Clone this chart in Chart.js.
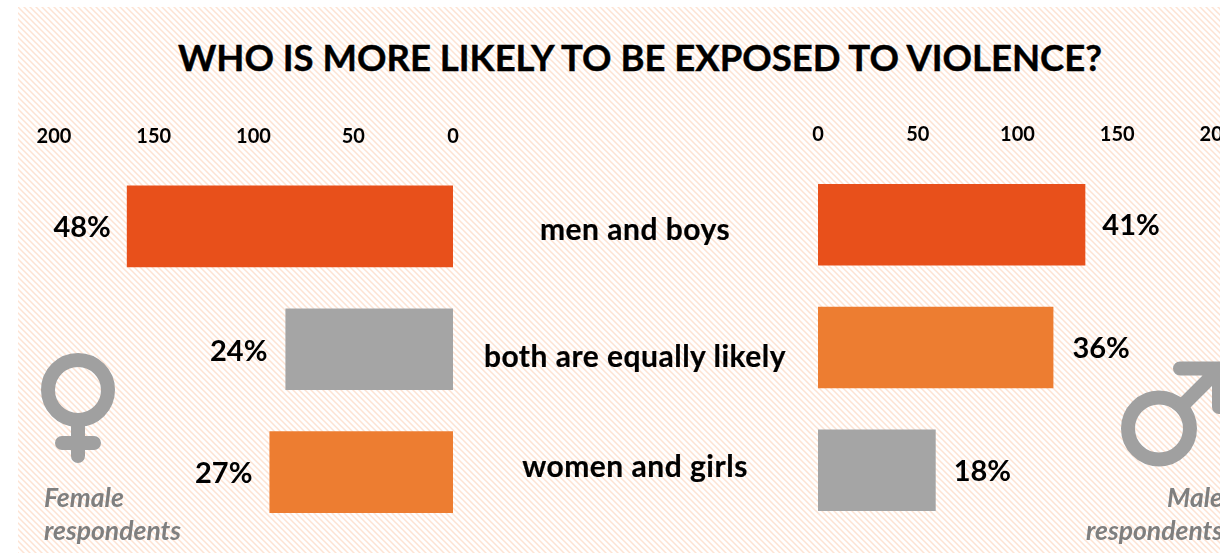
<!DOCTYPE html>
<html>
<head>
<meta charset="utf-8">
<script src="https://cdn.jsdelivr.net/npm/chart.js@4"></script>
<style>
  html, body { margin: 0; padding: 0; background: #fff; }
  body { width: 1220px; height: 553px; overflow: hidden; position: relative; font-family: Lato, sans-serif; }
  .bg {
    position: absolute; left: 18px; top: 7px; right: 0; bottom: 0;
    background-image: url("data:image/svg+xml,%3Csvg xmlns='http://www.w3.org/2000/svg' width='6' height='6'%3E%3Cpath d='M-1 -1L7 7M-1 5L1 7M5 -1L7 1' stroke='%23fde3d3' stroke-width='1.5'/%3E%3C/svg%3E");
    background-size: 6px 6px;
  }
  h1 { position: absolute; left: 0; width: 1280px; top: 35px; margin: 0; text-align: center; font-size: 36.5px; line-height: 44px; font-weight: 700; color: #000; white-space: nowrap; -webkit-text-stroke: 0.4px #000; }
  .wrap { position: absolute; }
  .cat { position: absolute; left: 435px; width: 400px; text-align: center; font-size: 30px; letter-spacing: 0.5px; font-weight: 700; color: #000; line-height: 34px; white-space: nowrap; -webkit-text-stroke: 0.2px #000; }
  .resp { position: absolute; font-size: 26.5px; font-weight: 700; font-style: italic; color: #7f7f7f; line-height: 33px; white-space: nowrap; }
  svg { position: absolute; }
</style>
</head>
<body>
<div class="bg"></div>
<h1>WHO IS MORE LIKELY TO BE EXPOSED TO VIOLENCE?</h1>

<div class="wrap" style="left:18px;top:110px;width:470px;height:440px"><canvas id="femaleChart"></canvas></div>
<div class="wrap" style="left:780px;top:108px;width:480px;height:440px"><canvas id="maleChart"></canvas></div>

<div class="cat" style="top:211px">men and boys</div>
<div class="cat" style="top:338px">both are equally likely</div>
<div class="cat" style="top:448px">women and girls</div>

<svg style="left:30px;top:345px" width="100" height="125" viewBox="0 0 100 125">
  <circle cx="48" cy="45" r="30" fill="none" stroke="#a0a0a0" stroke-width="14"/>
  <path d="M48 75V111M32 98H64" fill="none" stroke="#a0a0a0" stroke-width="14" stroke-linecap="round"/>
</svg>
<svg style="left:1110px;top:350px" width="110" height="125" viewBox="0 0 110 125">
  <circle cx="49" cy="78.5" r="31" fill="none" stroke="#a0a0a0" stroke-width="14"/>
  <path d="M72 56L109 19M70 18.5H125M109 18.5V57" fill="none" stroke="#a0a0a0" stroke-width="14" stroke-linecap="round"/>
</svg>

<div class="resp" style="left:44px;top:481px">Female<br>respondents</div>
<div class="resp" style="right:-3px;top:481px;text-align:right">Male<br>respondents</div>

<script>
const categories = ["men and boys", "both are equally likely", "women and girls"];
const femaleValues = [163.5, 84, 92];
const maleValues = [134, 118, 59];
const femalePercents = ["48%", "24%", "27%"];
const malePercents = ["41%", "36%", "18%"];
const tickValues = [0, 50, 100, 150, 200];

const RED = "#e8501b";
const ORANGE = "#ed7d31";
const GRAY = "#a5a5a5";
const femaleColors = [RED, GRAY, ORANGE];
const maleColors = [RED, ORANGE, GRAY];

// percent labels sit just past the end of each bar
const barLabels = {
  id: "barLabels",
  afterDatasetsDraw(chart, args, opts) {
    const ctx = chart.ctx;
    ctx.save();
    ctx.font = "700 29px Lato";
    ctx.fillStyle = "#000";
    ctx.textBaseline = "middle";
    ctx.textAlign = opts.reverse ? "right" : "left";
    chart.getDatasetMeta(0).data.forEach((bar, i) => {
      const x = bar.x + (opts.reverse ? -opts.gap[i] : opts.gap[i]);
      ctx.fillText(opts.labels[i], x, bar.y + opts.dy[i]);
    });
    ctx.restore();
  },
};

const makeChart = function (id, values, colors, labels, reverse, gap, dy, pad, tickPad) {
  new Chart(document.getElementById(id), {
    type: "bar",
    data: {
      labels: categories,
      datasets: [{ data: values, backgroundColor: colors, barPercentage: 0.665, categoryPercentage: 1 }],
    },
    options: {
      indexAxis: "y",
      responsive: false,
      animation: false,
      maintainAspectRatio: false,
      layout: { padding: pad },
      plugins: {
        legend: { display: false },
        tooltip: { enabled: false },
        barLabels: { labels, reverse, gap, dy },
      },
      scales: {
        y: { display: false },
        x: {
          position: "top",
          reverse,
          min: 0,
          max: 200,
          grid: { display: false },
          border: { display: false },
          afterBuildTicks: (s) => { s.ticks = tickValues.map((v) => ({ value: v })); },
          afterFit: (s) => { s.height = 40; },
          ticks: { color: "#000", padding: tickPad, maxRotation: 0, font: { family: "Lato", size: 20, weight: "700" } },
        },
      },
    },
    plugins: [barLabels],
  });
};

const sizeCanvas = function (id, w, h) {
  const c = document.getElementById(id);
  c.width = w;
  c.height = h;
  c.style.width = w + "px";
  c.style.height = h + "px";
};

sizeCanvas("femaleChart", 470, 440);
sizeCanvas("maleChart", 480, 440);

makeChart("femaleChart", femaleValues, femaleColors, femalePercents, true, [16, 18, 17], [1, 2, 2], { left: 36, right: 35, top: 15, bottom: 16.5 }, 8);
makeChart("maleChart", maleValues, maleColors, malePercents, false, [17, 19, 18], [1, 1, 1], { left: 38, right: 43, top: 15.5, bottom: 16.5 }, 8.5);
</script>
</body>
</html>
